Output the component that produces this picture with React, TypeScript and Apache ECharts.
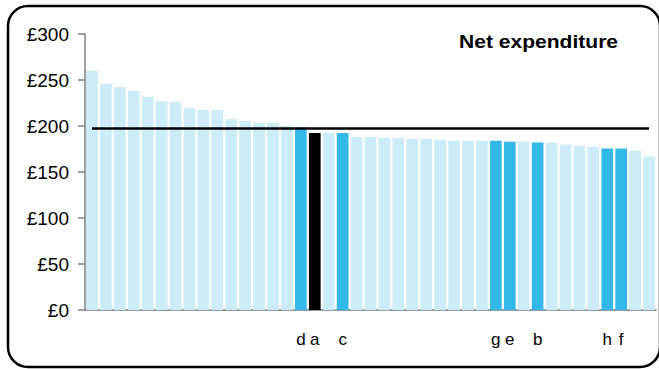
import React, { useEffect, useRef } from "react";
import * as echarts from "echarts";

// Bar labels (empty string = unlabelled authority)
const labels: string[] = [
  "", "", "", "", "", "", "", "", "", "", "", "", "", "", "",
  "d", "a", "", "c", "", "", "", "", "", "", "", "", "", "",
  "g", "e", "", "b", "", "", "", "", "h", "f", "", "",
];

// Net expenditure per bar (£)
const values: number[] = [
  260, 246, 242.5, 238, 231.5, 227, 226, 219.5, 217.5, 217.5, 207.5, 205.5, 203.5, 203.5, 200,
  198.5, 192.5, 192.5, 192.5, 188, 188, 187, 187, 186, 186, 185, 184, 184, 184,
  184, 183, 183, 182, 182, 179.5, 178.5, 177.5, 175.5, 175.5, 173, 166.5,
];

const referenceValue = 197.5;
const yTicks = [0, 50, 100, 150, 200, 250, 300];
const highlightedLabel = "a";

const LIGHT = "#CCECF8";
const BLUE = "#33B9E8";
const BLACK = "#000000";

export default function App() {
  const ref = useRef<HTMLDivElement>(null);

  useEffect(() => {
    document.body.style.margin = "0";
    if (!ref.current) return;
    const chart = echarts.init(ref.current, null, { renderer: "svg" });

    const barData = values.map((v, i) => ({
      value: v,
      itemStyle: {
        color:
          labels[i] === highlightedLabel ? BLACK : labels[i] !== "" ? BLUE : LIGHT,
      },
    }));

    chart.setOption({
      animation: false,
      backgroundColor: "#ffffff",
      grid: { left: 85, right: 3, top: 34, bottom: 59, containLabel: false },
      xAxis: {
        type: "category",
        data: labels,
        axisLine: { show: true, lineStyle: { color: "#6f7b80", width: 1.5 } },
        axisTick: { show: false },
        axisLabel: {
          interval: 0,
          margin: 21,
          fontSize: 17,
          fontFamily: "Liberation Sans, Arial, sans-serif",
          color: "#000",
        },
      },
      yAxis: {
        type: "value",
        min: yTicks[0],
        max: yTicks[yTicks.length - 1],
        interval: 50,
        splitLine: { show: false },
        axisLine: { show: true, lineStyle: { color: "#808080", width: 1.5 } },
        axisTick: { show: true, inside: false, length: 7, lineStyle: { color: "#808080", width: 1.5 } },
        axisLabel: {
          margin: 16,
          fontSize: 19,
          fontFamily: "Liberation Sans, Arial, sans-serif",
          color: "#000",
          formatter: (v: number) => "£" + v,
        },
      },
      series: [
        {
          type: "bar",
          data: barData,
          barCategoryGap: "16%",
          silent: true,
          markLine: {
            silent: true,
            symbol: "none",
            label: { show: false },
            lineStyle: { color: "#000", width: 2.5, type: "solid" },
            data: [
              [
                { coord: [0, referenceValue] },
                { coord: [values.length - 1, referenceValue] },
              ],
            ],
          },
        },
      ],
      graphic: [
        {
          type: "text",
          x: 459,
          y: 33,
          scaleX: 1.17,
          style: {
            text: "Net expenditure",
            font: "bold 18px 'Liberation Sans', Arial, sans-serif",
            fill: "#000",
            textVerticalAlign: "top",
          },
        },
        {
          type: "rect",
          shape: { x: 8, y: 6, width: 652, height: 361, r: 20 },
          style: { fill: "none", stroke: "#000", lineWidth: 2.5 },
          silent: true,
        },
      ],
    });

    return () => chart.dispose();
  }, []);

  return <div ref={ref} style={{ width: 659, height: 369 }} />;
}
